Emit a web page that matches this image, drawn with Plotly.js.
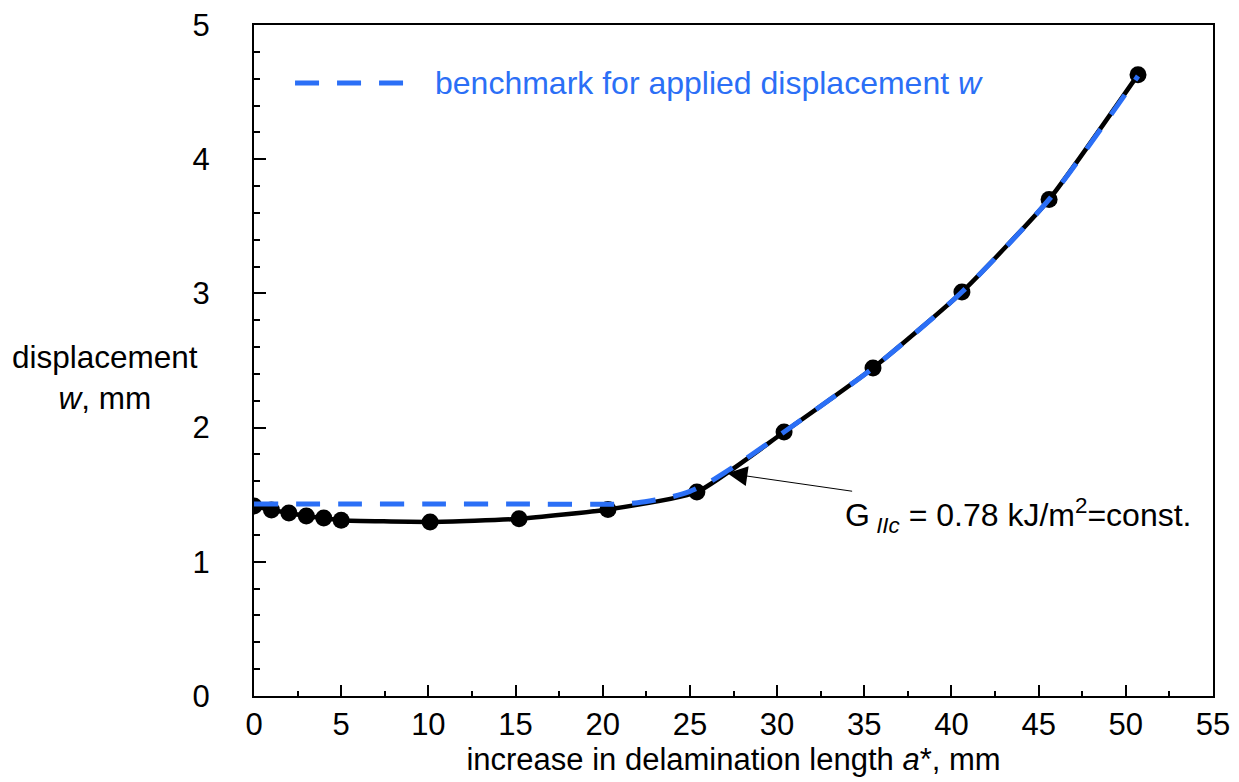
<!DOCTYPE html>
<html>
<head>
<meta charset="utf-8">
<script src="https://cdn.plot.ly/plotly-3.0.1.min.js"></script>
<style>html,body{margin:0;padding:0;background:#fff;}#chart{width:1239px;height:782px;}</style>
</head>
<body>
<div id="chart"></div>
<script>
// Measured data (increase in delamination length a*, mm vs displacement w, mm)
const measuredA = [0, 1, 2, 3, 4, 5, 10.1, 15.2, 20.3, 25.4, 30.4, 35.5, 40.6, 45.6, 50.7];
const measuredW = [1.416, 1.386, 1.364, 1.341, 1.326, 1.31, 1.297, 1.32, 1.39, 1.52, 1.967, 2.444, 3.01, 3.70, 4.63];

// Benchmark for applied displacement w (G_IIc = const)
const benchA = [0, 5, 10, 15, 21, 22, 23, 24, 25, 26, 28, 30.4, 35.5, 40.6, 45.6, 50.7];
const benchW = [1.43, 1.43, 1.43, 1.43, 1.43, 1.44, 1.46, 1.485, 1.525, 1.585, 1.75, 1.967, 2.444, 3.01, 3.70, 4.62];

const xTicks = [0, 5, 10, 15, 20, 25, 30, 35, 40, 45, 50, 55];
const yTicks = [0, 1, 2, 3, 4, 5];

const FONT = 'Liberation Sans, Arial, Helvetica, sans-serif';
const BLUE = '#2b6ff6';

const traces = [
  {
    x: measuredA, y: measuredW, type: 'scatter', mode: 'lines+markers',
    line: {color: '#000', width: 4.5, shape: 'spline', smoothing: 0.5},
    marker: {color: '#000', size: 17},
    showlegend: false, hoverinfo: 'skip'
  },
  {
    x: benchA, y: benchW, type: 'scatter', mode: 'lines',
    line: {color: BLUE, width: 5, dash: '24px,18px', shape: 'spline', smoothing: 0.6},
    showlegend: false, hoverinfo: 'skip'
  }
];

const layout = {
  width: 1239, height: 782,
  margin: {l: 254, r: 26, t: 25, b: 86},
  paper_bgcolor: '#fff', plot_bgcolor: '#fff',
  font: {family: FONT, size: 31, color: '#000'},
  showlegend: false,
  xaxis: {
    range: [0, 55], tickvals: xTicks, ticktext: xTicks.map(String),
    ticks: 'inside', ticklen: 11, tickwidth: 2, tickcolor: '#000',
    minor: {dtick: 2.5, tick0: 0, ticks: 'inside', ticklen: 5, tickwidth: 2, tickcolor: '#000'},
    showline: true, linecolor: '#000', linewidth: 2, mirror: true,
    showgrid: false, zeroline: false,
    ticklabelstandoff: 0,
    tickfont: {size: 31, family: FONT},
    title: {text: 'increase in delamination length <i>a</i>*, mm', font: {size: 31, family: FONT}, standoff: 2}
  },
  yaxis: {
    range: [0, 5], tickvals: yTicks, ticktext: yTicks.map(String),
    ticks: 'inside', ticklen: 12, tickwidth: 2, tickcolor: '#000',
    minor: {dtick: 0.2, tick0: 0, ticks: 'inside', ticklen: 6, tickwidth: 2, tickcolor: '#000'},
    showline: true, linecolor: '#000', linewidth: 2, mirror: true,
    showgrid: false, zeroline: false,
    ticklabelstandoff: 36,
    tickfont: {size: 31, family: FONT}
  },
  shapes: [
    {type: 'line', xref: 'paper', yref: 'paper', x0: 0.0428, x1: 0.157, y0: 0.9136, y1: 0.9136,
     line: {color: BLUE, width: 5, dash: '24px,18px'}}
  ],
  annotations: [
    {xref: 'paper', yref: 'paper', x: 0.1867, y: 0.9136, xanchor: 'left', yanchor: 'middle',
     text: 'benchmark for applied displacement <i>w</i>', showarrow: false,
     font: {color: BLUE, size: 32, family: FONT}},
    {xref: 'paper', yref: 'paper', x: -0.1554, y: 0.475, xanchor: 'center', yanchor: 'middle',
     text: 'displacement<br><i>w</i>, mm', showarrow: false, align: 'center',
     font: {size: 31.5, family: FONT}},
    {x: 27.15, y: 1.66, xref: 'x', yref: 'y',
     text: 'G<sub> <i>IIc</i></sub> = 0.78 kJ/m<sup>2</sup>=const.',
     showarrow: true, arrowhead: 2, arrowsize: 4, arrowwidth: 1, arrowcolor: '#000',
     ax: 291, ay: 42, font: {size: 32, family: FONT}}
  ]
};

Plotly.newPlot('chart', traces, layout, {displayModeBar: false, staticPlot: true});
</script>
</body>
</html>
